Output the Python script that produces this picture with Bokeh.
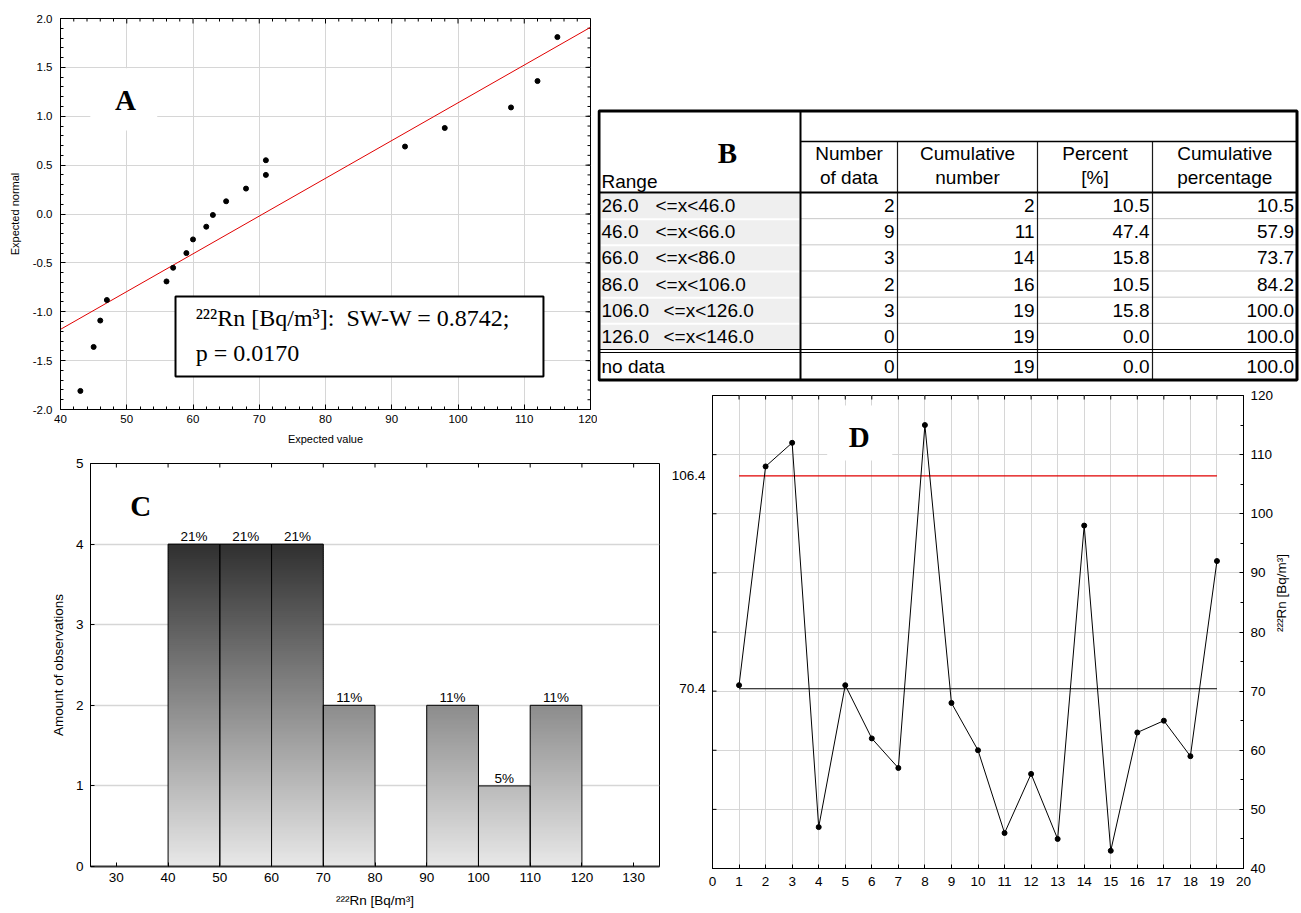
import numpy as np
from math import pi
from bokeh.plotting import figure
from bokeh.models import (Range1d, LinearAxis, FixedTicker, PrintfTickFormatter,
                          ColumnDataSource, GridBox, Column)
from bokeh.core.properties import value
from bokeh.embed import file_html
from bokeh.resources import INLINE

SANS = "Liberation Sans"
SERIF = "Liberation Serif"

# ------------------------------------------------------------------ data
# A: normal probability plot
a_expected_value = [43, 45, 46, 47, 56, 57, 59, 60, 62, 63, 65, 68, 71, 71, 92, 98, 108, 112, 115]
a_expected_normal = [-1.81, -1.36, -1.09, -0.88, -0.69, -0.55, -0.40, -0.26, -0.13, -0.01,
                     0.13, 0.26, 0.40, 0.55, 0.69, 0.88, 1.09, 1.36, 1.81]
a_fit_x = [40, 120]
a_fit_y = [-1.18, 1.91]
a_stat_lines = ["²²²Rn [Bq/m³]:\u00a0 SW-W = 0.8742;", "p = 0.0170"]

# B: frequency table
b_headers = [("Number", "of data"), ("Cumulative", "number"), ("Percent", "[%]"),
             ("Cumulative", "percentage")]
b_range_lo = ["26.0", "46.0", "66.0", "86.0", "106.0", "126.0"]
b_range_hi = ["46.0", "66.0", "86.0", "106.0", "126.0", "146.0"]
b_count = [2, 9, 3, 2, 3, 0]
b_cum_count = [2, 11, 14, 16, 19, 19]
b_percent = [10.5, 47.4, 15.8, 10.5, 15.8, 0.0]
b_cum_percent = [10.5, 57.9, 73.7, 84.2, 100.0, 100.0]
b_nodata = ["no data", 0, 19, 0.0, 100.0]

# C: histogram
c_bin_left = [40, 50, 60, 70, 90, 100, 110]
c_bin_width = 10
c_counts = [4, 4, 4, 2, 2, 1, 2]
c_pct_labels = ["21%", "21%", "21%", "11%", "11%", "5%", "11%"]

# D: run chart
d_obs = list(range(1, 20))
d_values = [71, 108, 112, 47, 71, 62, 57, 115, 68, 60, 46, 56, 45, 98, 43, 63, 65, 59, 92]
d_limits = [70.4, 106.4]

# ------------------------------------------------------------------ helpers
GRID = "#d6d6d6"
RED = "#e00000"


def style_axis(ax, size, tick_in=5, minor_in=3, standoff=6):
    ax.major_label_text_font = SANS
    ax.major_label_text_font_size = size
    ax.major_label_text_color = "black"
    ax.major_tick_in = tick_in
    ax.major_tick_out = 0
    ax.minor_tick_in = minor_in
    ax.minor_tick_out = 0
    ax.axis_line_color = "black"
    ax.major_tick_line_color = "black"
    ax.minor_tick_line_color = "black"
    ax.major_label_standoff = standoff
    ax.axis_label_text_font = SANS
    ax.axis_label_text_font_style = "normal"
    ax.axis_label_text_color = "black"


def mirror_ticks(p, positions, side, length_px, xr, yr, frame_w, frame_h):
    """Inward tick marks on a frame edge without an axis, placed through the plot's scales."""
    if side == "top":
        d = length_px * (yr[1] - yr[0]) / frame_h
        p.segment(x0=positions, x1=positions, y0=yr[1], y1=yr[1] - d,
                  line_color="black", line_width=1)
    elif side == "right":
        d = length_px * (xr[1] - xr[0]) / frame_w
        p.segment(x0=xr[1], x1=xr[1] - d, y0=positions, y1=positions,
                  line_color="black", line_width=1)
    else:  # left
        d = length_px * (xr[1] - xr[0]) / frame_w
        p.segment(x0=xr[0], x1=xr[0] + d, y0=positions, y1=positions,
                  line_color="black", line_width=1)


def letter(p, x, y, txt):
    p.text(x=[x], y=[y], text=[txt], text_font=value(SERIF), text_font_style="bold",
           text_font_size="29px", text_align="center", text_baseline="middle",
           text_color="black")


# ------------------------------------------------------------------ A
A_W, A_H, A_L, A_R, A_T, A_B = 597, 450, 60, 7, 18, 41
axr, ayr = (40, 120), (-2, 2)
pA = figure(width=A_W, height=A_H, x_range=Range1d(*axr), y_range=Range1d(*ayr),
            output_backend="svg", toolbar_location=None,
            min_border_left=A_L, min_border_right=A_R, min_border_top=A_T,
            min_border_bottom=A_B, outline_line_color="black")
a_xmaj = list(range(40, 121, 10))
a_xmin = [v for v in range(40, 121, 2) if v % 10]
a_ymaj = [round(-2 + 0.5 * i, 1) for i in range(9)]
a_ymin = [round(-2 + 0.1 * i, 1) for i in range(41)]
ax_ticks = FixedTicker(ticks=a_xmaj, minor_ticks=a_xmin)
ay_ticks = FixedTicker(ticks=a_ymaj, minor_ticks=a_ymin)
pA.xaxis.ticker = ax_ticks
pA.yaxis.ticker = ay_ticks
pA.yaxis.formatter = PrintfTickFormatter(format="%.1f")
for ax in pA.xaxis:
    style_axis(ax, "11.5px", standoff=5)
    ax.axis_label = "Expected value"
    ax.axis_label_text_font_size = "11px"
    ax.axis_label_standoff = 7
for ax in pA.yaxis:
    style_axis(ax, "11.5px", standoff=8)
    ax.axis_label = "Expected normal"
    ax.axis_label_text_font_size = "11px"
    ax.axis_label_standoff = 9
pA.xgrid.ticker = ax_ticks
pA.ygrid.ticker = ay_ticks
pA.grid.grid_line_color = GRID

afw, afh = A_W - A_L - A_R, A_H - A_T - A_B
mirror_ticks(pA, a_xmaj, "top", 5, axr, ayr, afw, afh)
mirror_ticks(pA, a_xmin, "top", 3, axr, ayr, afw, afh)
mirror_ticks(pA, a_ymaj, "right", 5, axr, ayr, afw, afh)
mirror_ticks(pA, a_ymin, "right", 3, axr, ayr, afw, afh)

pA.quad(left=[44.5], right=[54.6], bottom=[0.854], top=[1.49], fill_color="white",
        line_color=None)
letter(pA, 49.8, 1.17, "A")
pA.line(a_fit_x, a_fit_y, line_color=RED, line_width=1)
pA.scatter(a_expected_value, a_expected_normal, size=5, color="black")
pA.quad(left=[57.36], right=[112.9], bottom=[-1.662], top=[-0.844], fill_color="white",
        line_color="black", line_width=2)
pA.text(x=[60.4, 60.4], y=[-1.069, -1.417], text=a_stat_lines, text_font=value(SERIF),
        text_font_size="24px", text_align="left", text_baseline="middle", text_color="black")

# ------------------------------------------------------------------ B
pB = figure(width=702, height=280, x_range=Range1d(597, 1299), y_range=Range1d(385, 105),
            x_axis_type=None, y_axis_type=None, output_backend="svg", toolbar_location=None,
            min_border=0, outline_line_color=None)
B_L, B_R, B_T, B_B = 598.5, 1296.5, 110.5, 379.5
B_COLS = [800, 897, 1037, 1152, B_R]
HEAD_SPLIT, HEAD_BOTTOM = 141, 192
n_rows = len(b_range_lo)
row_h = (349 - HEAD_BOTTOM) / n_rows
row_top = [HEAD_BOTTOM + i * row_h for i in range(n_rows)]
row_mid = [t + row_h / 2 for t in row_top]
ND_TOP = 352
nd_mid = (ND_TOP + B_B) / 2

pB.quad(left=600, right=799, top=[t + 1.5 for t in row_top],
        bottom=[t + row_h - 0.5 for t in row_top], fill_color="#efefef", line_color=None)
pB.segment(x0=800, x1=B_R, y0=row_top[1:], y1=row_top[1:], line_color="#c8c8c8", line_width=1)
pB.segment(x0=B_COLS[1:4], x1=B_COLS[1:4], y0=HEAD_SPLIT, y1=B_B, line_color="#1a1a1a",
           line_width=1.2)
pB.segment(x0=[800], x1=[800], y0=[B_T], y1=[B_B], line_color="black", line_width=2)
pB.segment(x0=[800], x1=[B_R], y0=[HEAD_SPLIT], y1=[HEAD_SPLIT], line_color="black",
           line_width=1.5)
pB.segment(x0=[B_L], x1=[B_R], y0=[HEAD_BOTTOM], y1=[HEAD_BOTTOM], line_color="black",
           line_width=2)
pB.segment(x0=[B_L, B_L], x1=[B_R, B_R], y0=[349, ND_TOP], y1=[349, ND_TOP],
           line_color="black", line_width=1.2)
pB.quad(left=[B_L], right=[B_R], top=[B_T], bottom=[B_B], fill_color=None,
        line_color="black", line_width=3)

TFS = "19px"
centers = [(B_COLS[i] + B_COLS[i + 1]) / 2 for i in range(4)]
pB.text(x=centers * 2, y=[153] * 4 + [177] * 4,
        text=[h[0] for h in b_headers] + [h[1] for h in b_headers],
        text_font=value(SANS), text_font_size=TFS, text_align="center",
        text_baseline="middle", text_color="black")
pB.text(x=[601], y=[181], text=["Range"], text_font=value(SANS), text_font_size=TFS,
        text_align="left", text_baseline="middle", text_color="black")
letter(pB, 727, 152, "B")

pB.text(x=[601] * n_rows + [601], y=row_mid + [nd_mid], text=b_range_lo + [b_nodata[0]],
        text_font=value(SANS), text_font_size=TFS, text_align="left",
        text_baseline="middle", text_color="black")
pB.text(x=[655 if len(lo) == 4 else 663 for lo in b_range_lo], y=row_mid,
        text=["<=x<" + hi for hi in b_range_hi],
        text_font=value(SANS), text_font_size=TFS, text_align="left",
        text_baseline="middle", text_color="black")
rights = [c - 3 for c in B_COLS[1:]]
num_x, num_y, num_t = [], [], []
cols_vals = [[str(v) for v in b_count] + [str(b_nodata[1])],
             [str(v) for v in b_cum_count] + [str(b_nodata[2])],
             [f"{v:.1f}" for v in b_percent] + [f"{b_nodata[3]:.1f}"],
             [f"{v:.1f}" for v in b_cum_percent] + [f"{b_nodata[4]:.1f}"]]
for ci, vals in enumerate(cols_vals):
    for ri, t in enumerate(vals):
        num_x.append(rights[ci])
        num_y.append(row_mid[ri] if ri < n_rows else nd_mid)
        num_t.append(t)
pB.text(x=num_x, y=num_y, text=num_t, text_font=value(SANS), text_font_size=TFS,
        text_align="right", text_baseline="middle", text_color="black")

# ------------------------------------------------------------------ C
C_W, C_H, C_L, C_R, C_T, C_B = 668, 461, 90, 9, 13, 45
cxr, cyr = (25, 135), (0, 5)
pC = figure(width=C_W, height=C_H, x_range=Range1d(*cxr), y_range=Range1d(*cyr),
            output_backend="svg", toolbar_location=None,
            min_border_left=C_L, min_border_right=C_R, min_border_top=C_T,
            min_border_bottom=C_B, outline_line_color="black")
c_xmaj = list(range(30, 131, 10))
cx_ticks = FixedTicker(ticks=c_xmaj, minor_ticks=[])
cy_ticks = FixedTicker(ticks=list(range(0, 6)), minor_ticks=[])
pC.xaxis.ticker = cx_ticks
pC.yaxis.ticker = cy_ticks
for ax in pC.xaxis:
    style_axis(ax, "13.5px", tick_in=4, standoff=6)
    ax.axis_label = "²²²Rn [Bq/m³]"
    ax.axis_label_text_font_size = "13.5px"
    ax.axis_label_standoff = 8
    ax.axis_line_width = 2
    ax.axis_line_color = "#333333"
for ax in pC.yaxis:
    style_axis(ax, "13.5px", tick_in=4, standoff=7)
    ax.axis_label = "Amount of observations"
    ax.axis_label_text_font_size = "13.5px"
    ax.axis_label_standoff = 7
pC.xgrid.visible = False
pC.ygrid.ticker = FixedTicker(ticks=[1, 2, 3, 4])
pC.ygrid.grid_line_color = GRID
pC.ygrid.grid_line_width = 1.5
mirror_ticks(pC, c_xmaj, "top", 4, cxr, cyr, C_W - C_L - C_R, C_H - C_T - C_B)

step = 0.025
gl, gr, gb, gt, gc = [], [], [], [], []
for left, cnt in zip(c_bin_left, c_counts):
    n = int(round(cnt / step))
    for k in range(n):
        b = k * step
        t = min(cnt, b + step * 1.6)
        g = int(round(232 - 46 * (b + step / 2)))
        gl.append(left)
        gr.append(left + c_bin_width)
        gb.append(b)
        gt.append(t)
        gc.append("#%02x%02x%02x" % (g, g, g))
pC.quad(source=ColumnDataSource(dict(l=gl, r=gr, b=gb, t=gt, c=gc)),
        left="l", right="r", bottom="b", top="t", fill_color="c", line_color=None)
pC.quad(left=c_bin_left, right=[v + c_bin_width for v in c_bin_left], bottom=0,
        top=c_counts, fill_color=None, line_color="black", line_width=1)
pC.text(x=[v + c_bin_width / 2 for v in c_bin_left], y=c_counts, text=c_pct_labels,
        text_font=value(SANS), text_font_size="13.5px", text_align="center",
        text_baseline="bottom", text_color="black")
letter(pC, 34.7, 4.47, "C")

# ------------------------------------------------------------------ D
D_W, D_H, D_L, D_R, D_T, D_B = 631, 526, 42, 56, 10, 43
dxr, dyr = (0, 20), (40, 120)
pD = figure(width=D_W, height=D_H, x_range=Range1d(*dxr), y_range=Range1d(*dyr),
            output_backend="svg", toolbar_location=None,
            min_border_left=D_L, min_border_right=D_R, min_border_top=D_T,
            min_border_bottom=D_B, outline_line_color="black")
d_xmaj = list(range(0, 21))
d_ymaj = list(range(40, 121, 10))
dx_ticks = FixedTicker(ticks=d_xmaj, minor_ticks=[])
dr_ticks = FixedTicker(ticks=d_ymaj, minor_ticks=list(range(45, 120, 10)))
pD.xaxis.ticker = dx_ticks
pD.yaxis.ticker = FixedTicker(ticks=d_limits, minor_ticks=[])
for ax in pD.xaxis:
    style_axis(ax, "13.5px", tick_in=4, standoff=8)
for ax in pD.yaxis:
    style_axis(ax, "13.5px", tick_in=0, minor_in=0, standoff=7)
right_ax = LinearAxis(ticker=dr_ticks, axis_label="²²²Rn [Bq/m³]")
style_axis(right_ax, "13.5px", tick_in=4, minor_in=3, standoff=7)
right_ax.axis_label_text_font_size = "13.5px"
right_ax.axis_label_standoff = 5
if "axis_label_orientation" in right_ax.properties():
    right_ax.axis_label_orientation = pi / 2
pD.add_layout(right_ax, "right")
pD.xgrid.ticker = FixedTicker(ticks=list(range(1, 20)))
pD.ygrid.ticker = FixedTicker(ticks=list(range(50, 111, 10)))
pD.grid.grid_line_color = GRID
dfw, dfh = D_W - D_L - D_R, D_H - D_T - D_B
mirror_ticks(pD, d_xmaj, "top", 4, dxr, dyr, dfw, dfh)
mirror_ticks(pD, d_ymaj, "left", 4, dxr, dyr, dfw, dfh)

pD.quad(left=[4.32], right=[6.77], bottom=[109.0], top=[118.3], fill_color="white",
        line_color=None)
letter(pD, 5.53, 112.9, "D")
pD.segment(x0=[d_obs[0]] * 2, x1=[d_obs[-1]] * 2, y0=d_limits, y1=d_limits,
           line_color=["black", RED], line_width=1.2)
pD.line(d_obs, d_values, line_color="black", line_width=1)
pD.scatter(d_obs, d_values, size=5, color="black")

# ------------------------------------------------------------------ layout
def box(p):
    return Column(children=[p])


grid = GridBox(children=[(box(pA), 0, 0, 3, 1), (box(pB), 1, 1, 1, 2),
                         (box(pD), 2, 2, 2, 1), (box(pC), 3, 0, 1, 2)],
               rows=["105px", "280px", "65px", "461px"],
               cols=["597px", "71px", "631px"], spacing=0)

open("out.html", "w").write(file_html(grid, INLINE))
